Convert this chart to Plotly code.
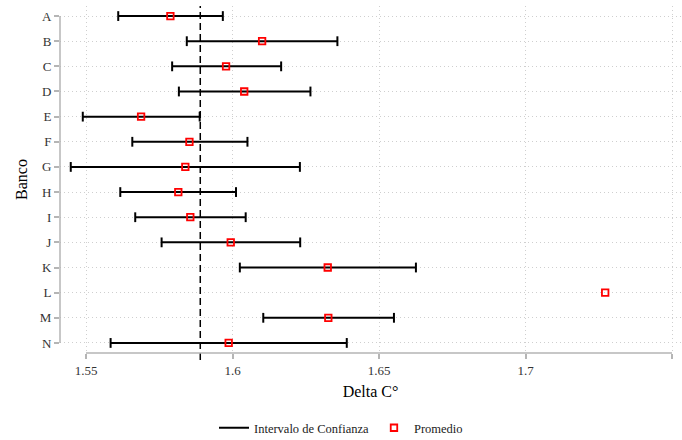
import plotly.graph_objects as go

banks = list("ABCDEFGHIJKLMN")
means = [1.5788, 1.6101, 1.5978, 1.6040, 1.5688, 1.5853, 1.5839, 1.5815,
         1.5856, 1.5994, 1.6325, 1.7272, 1.6327, 1.5987]
lower = [1.5610, 1.5844, 1.5794, 1.5817, 1.5489, 1.5658, 1.5448, 1.5617,
         1.5668, 1.5758, 1.6025, None, 1.6105, 1.5584]
upper = [1.5967, 1.6358, 1.6166, 1.6266, 1.5888, 1.6051, 1.6230, 1.6012,
         1.6045, 1.6231, 1.6626, None, 1.6551, 1.6390]
ref_value = 1.589
x_ticks = [1.55, 1.6, 1.65, 1.7, 1.75]
x_tick_labels = ["1.55", "1.6", "1.65", "1.7", "1.75"]

FONT = "Liberation Serif"
AXIS_GREY = "#b5b5b5"
GRID_GREY = "#cfcfcf"

seg_x, seg_y, cap_x, cap_y = [], [], [], []
for b, lo, hi in zip(banks, lower, upper):
    if lo is None or hi is None:
        continue
    seg_x += [lo, hi, None]
    seg_y += [b, b, None]
    cap_x += [lo, hi]
    cap_y += [b, b]

fig = go.Figure()
fig.add_trace(go.Scatter(
    x=seg_x, y=seg_y, mode="lines", name="Intervalo de Confianza",
    line=dict(color="black", width=2), connectgaps=False, hoverinfo="skip"))
fig.add_trace(go.Scatter(
    x=cap_x, y=cap_y, mode="markers", showlegend=False, hoverinfo="skip",
    marker=dict(symbol="line-ns", size=7, color="black",
                line=dict(color="black", width=2))))
fig.add_trace(go.Scatter(
    x=means, y=banks, mode="markers", name="Promedio",
    marker=dict(symbol="square-open", size=6.5, color="red",
                line=dict(color="red", width=1.8))))

# reference vertical dashed line
fig.add_shape(type="line", xref="x", yref="paper", x0=ref_value, x1=ref_value,
              y0=-0.02, y1=1, line=dict(color="black", width=1.5, dash="7px,4px"),
              layer="above")
# range-frame axis lines
fig.add_shape(type="line", xref="x", yref="paper", x0=x_ticks[0], x1=x_ticks[-1],
              y0=0, y1=0, line=dict(color=AXIS_GREY, width=1.5))
fig.add_shape(type="line", xref="paper", yref="y", x0=0, x1=0,
              y0=banks[0], y1=banks[-1], line=dict(color=AXIS_GREY, width=1.5))

fig.update_layout(
    width=682, height=440,
    margin=dict(l=60, r=1, t=6, b=87),
    paper_bgcolor="white", plot_bgcolor="white",
    font=dict(family=FONT, color="#333333", size=13),
    showlegend=True,
    legend=dict(orientation="h", xref="container", yref="container",
                x=0.5, xanchor="center", y=0.027, yanchor="middle",
                font=dict(family=FONT, size=12.5, color="#222222"),
                itemwidth=30),
    xaxis=dict(range=[1.541126, 1.75307], tickvals=x_ticks, ticktext=x_tick_labels,
               showgrid=True, gridcolor=GRID_GREY, griddash="1px,3px", gridwidth=1,
               zeroline=False, showline=False,
               ticks="outside", ticklen=5, tickcolor=AXIS_GREY, tickwidth=1.5,
               tickfont=dict(family=FONT, size=13, color="#333333"),
               title=dict(text="Delta C°", standoff=9,
                          font=dict(family=FONT, size=16, color="black"))),
    yaxis=dict(type="category", categoryorder="array",
               categoryarray=banks[::-1], range=[-0.4, 13.4],
               showgrid=True, gridcolor=GRID_GREY, griddash="1px,3px", gridwidth=1,
               zeroline=False, showline=False,
               ticks="outside", ticklen=5, tickcolor=AXIS_GREY, tickwidth=1.5,
               tickfont=dict(family=FONT, size=13, color="#333333"),
               title=dict(text="Banco", standoff=8,
                          font=dict(family=FONT, size=16, color="black"))),
)

fig.write_html("out.html")
